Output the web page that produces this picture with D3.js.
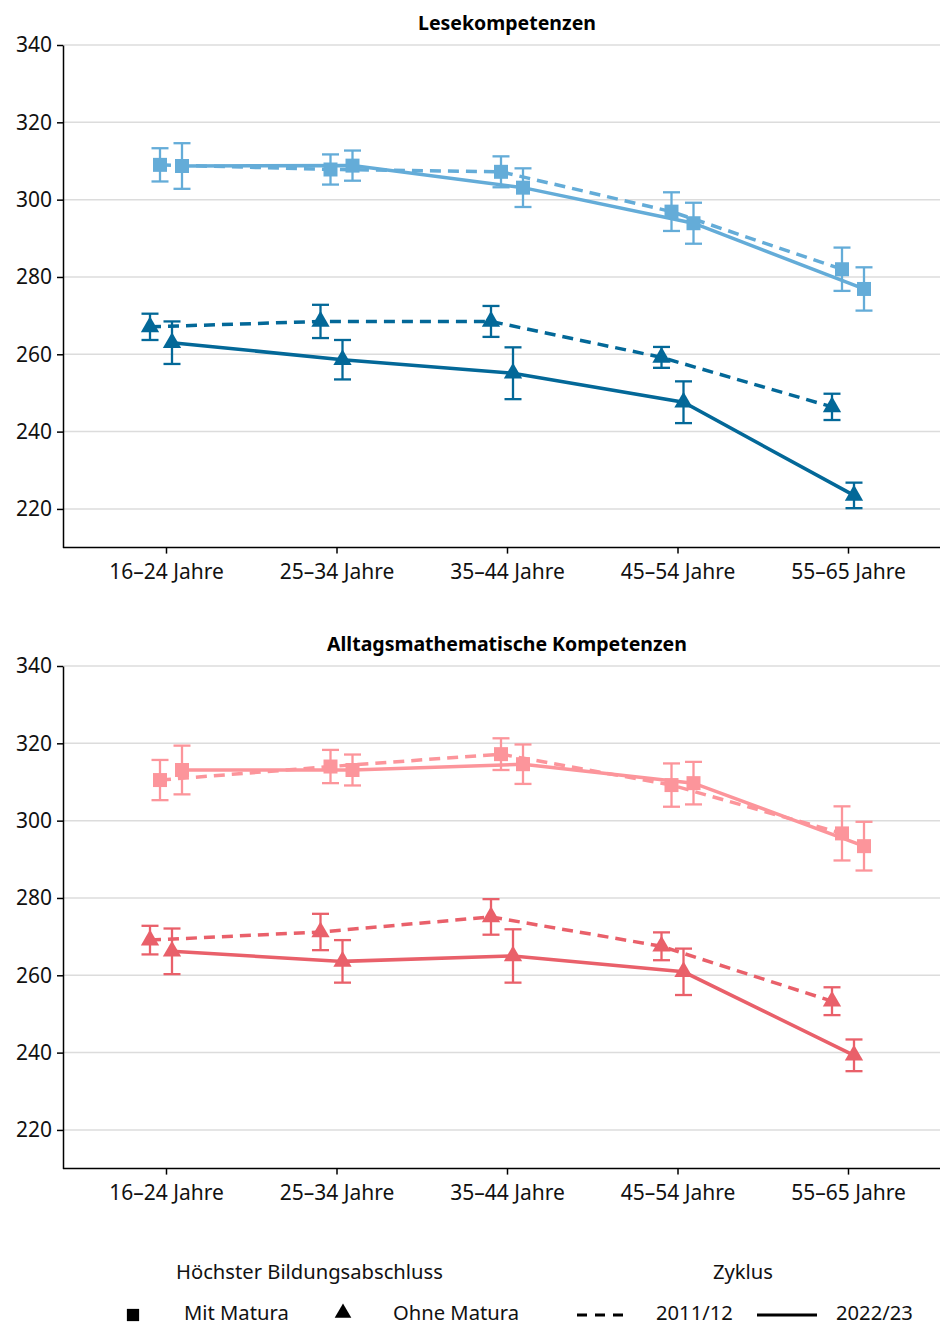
<!DOCTYPE html>
<html>
<head>
<meta charset="utf-8">
<script src="https://d3js.org/d3.v7.min.js"></script>
<style>
  body { margin: 0; background: #fff; }
  text { font-family: "Noto Sans", sans-serif; }
</style>
</head>
<body>
<div id="chart"></div>
<script>
// categories and ticks
var ageGroups = ["16–24 Jahre", "25–34 Jahre", "35–44 Jahre", "45–54 Jahre", "55–65 Jahre"];
var yTicks = [220, 240, 260, 280, 300, 320, 340];

// Lesekompetenzen
var leseMit2011 = [309.0, 307.8, 307.2, 296.9, 282.0];
var leseMit2011Err = [4.3, 3.9, 4.0, 5.0, 5.6];
var leseMit2022 = [308.7, 308.8, 303.1, 293.9, 276.9];
var leseMit2022Err = [5.9, 3.9, 5.0, 5.3, 5.6];
var leseOhne2011 = [267.1, 268.5, 268.5, 259.2, 246.4];
var leseOhne2011Err = [3.4, 4.3, 4.0, 2.7, 3.4];
var leseOhne2022 = [263.0, 258.6, 255.1, 247.6, 223.5];
var leseOhne2022Err = [5.5, 5.1, 6.7, 5.4, 3.3];

// Alltagsmathematische Kompetenzen
var mathMit2011 = [310.5, 314.0, 317.2, 309.2, 296.7];
var mathMit2011Err = [5.2, 4.3, 4.1, 5.6, 7.0];
var mathMit2022 = [313.1, 313.1, 314.6, 309.7, 293.4];
var mathMit2022Err = [6.3, 4.0, 5.1, 5.5, 6.3];
var mathOhne2011 = [269.1, 271.2, 275.1, 267.5, 253.3];
var mathOhne2011Err = [3.7, 4.7, 4.6, 3.6, 3.6];
var mathOhne2022 = [266.2, 263.6, 265.0, 260.9, 239.3];
var mathOhne2022Err = [5.9, 5.5, 6.9, 6.0, 4.1];

var W = 940, H = 1326;
var svg = d3.select("#chart").append("svg")
    .attr("width", W).attr("height", H);

var x = d3.scalePoint().domain(ageGroups).range([166, 848]);

function drawPanel(top, title, light, dark, series) {
    var y = d3.scaleLinear().domain([210, 340]).range([top + 502.6, top]);
    var g = svg.append("g");

    // grid
    g.selectAll("line.grid").data(yTicks).enter().append("line")
        .attr("x1", 63).attr("x2", W)
        .attr("y1", d => y(d)).attr("y2", d => y(d))
        .attr("stroke", "#dcdcdc").attr("stroke-width", 1.5);

    // axes
    var ya = g.append("g").attr("transform", "translate(63,0)")
        .call(d3.axisLeft(y).tickValues(yTicks).tickSize(6).tickPadding(5).tickSizeOuter(0));
    ya.select(".domain").attr("stroke", "#000").attr("stroke-width", 1.5);
    ya.selectAll(".tick line").attr("stroke", "#000").attr("stroke-width", 1.5);
    ya.selectAll(".tick text").attr("font-size", 21).attr("fill", "#111")
        .style("font-family", "Noto Sans");

    var xa = g.append("g").attr("transform", "translate(0," + y(210) + ")")
        .call(d3.axisBottom(x).tickSize(6).tickPadding(10).tickSizeOuter(0));
    xa.select(".domain").attr("d", "M63,0H" + W).attr("stroke", "#000").attr("stroke-width", 1.5);
    xa.selectAll(".tick line").attr("stroke", "#000").attr("stroke-width", 1.5);
    xa.selectAll(".tick text").attr("font-size", 21).attr("fill", "#111")
        .style("font-family", "Noto Sans");

    g.append("text").attr("x", 507).attr("y", top - 15)
        .attr("text-anchor", "middle").attr("font-size", 19.5).attr("font-weight", "bold")
        .text(title);

    var line = d3.line().x(d => d.x).y(d => y(d.v));

    series.forEach(function (s) {
        s.pts = s.values.map((v, i) => ({ x: x(ageGroups[i]) + s.dx, v: v, e: s.errs[i] }));
        s.color = s.shape === "square" ? light : dark;
    });

    series.forEach(function (s) {
        g.append("path").datum(s.pts)
            .attr("d", line).attr("fill", "none")
            .attr("stroke", s.color).attr("stroke-width", 3.5)
            .attr("stroke-dasharray", s.dashed ? "11,7" : null);
    });

    series.forEach(function (s) {
        var eg = g.append("g").attr("stroke", s.color).attr("stroke-width", 2.3);
        eg.selectAll("line.v").data(s.pts).enter().append("line")
            .attr("x1", d => d.x).attr("x2", d => d.x)
            .attr("y1", d => y(d.v + d.e)).attr("y2", d => y(d.v - d.e));
        eg.selectAll("line.t").data(s.pts).enter().append("line")
            .attr("x1", d => d.x - 8.5).attr("x2", d => d.x + 8.5)
            .attr("y1", d => y(d.v + d.e)).attr("y2", d => y(d.v + d.e));
        eg.selectAll("line.b").data(s.pts).enter().append("line")
            .attr("x1", d => d.x - 8.5).attr("x2", d => d.x + 8.5)
            .attr("y1", d => y(d.v - d.e)).attr("y2", d => y(d.v - d.e));
    });

    series.forEach(function (s) {
        var sym = s.shape === "square"
            ? d3.symbol().type(d3.symbolSquare).size(196)
            : d3.symbol().type(d3.symbolTriangle).size(145);
        g.selectAll(null).data(s.pts).enter().append("path")
            .attr("d", sym)
            .attr("transform", d => "translate(" + d.x + "," + y(d.v) + ")")
            .attr("fill", s.color);
    });
}

drawPanel(45, "Lesekompetenzen", "#64acd8", "#036898", [
    { values: leseOhne2011, errs: leseOhne2011Err, shape: "triangle", dashed: true, dx: -16 },
    { values: leseMit2011, errs: leseMit2011Err, shape: "square", dashed: true, dx: -6 },
    { values: leseOhne2022, errs: leseOhne2022Err, shape: "triangle", dashed: false, dx: 6 },
    { values: leseMit2022, errs: leseMit2022Err, shape: "square", dashed: false, dx: 16 }
]);

drawPanel(666, "Alltagsmathematische Kompetenzen", "#fc959b", "#e9606a", [
    { values: mathOhne2011, errs: mathOhne2011Err, shape: "triangle", dashed: true, dx: -16 },
    { values: mathMit2011, errs: mathMit2011Err, shape: "square", dashed: true, dx: -6 },
    { values: mathOhne2022, errs: mathOhne2022Err, shape: "triangle", dashed: false, dx: 6 },
    { values: mathMit2022, errs: mathMit2022Err, shape: "square", dashed: false, dx: 16 }
]);

// legend
var lg = svg.append("g").attr("font-size", 20.2).attr("fill", "#111");
lg.append("text").attr("x", 176).attr("y", 1279).text("Höchster Bildungsabschluss");
lg.append("text").attr("x", 743).attr("y", 1279).attr("text-anchor", "middle").text("Zyklus");
lg.append("path").attr("d", d3.symbol().type(d3.symbolSquare).size(150))
    .attr("transform", "translate(133,1315)").attr("fill", "#000");
lg.append("text").attr("x", 184).attr("y", 1320).text("Mit Matura");
lg.append("path").attr("d", d3.symbol().type(d3.symbolTriangle).size(120))
    .attr("transform", "translate(343,1313)").attr("fill", "#000");
lg.append("text").attr("x", 393).attr("y", 1320).text("Ohne Matura");
lg.append("line").attr("x1", 577).attr("x2", 631).attr("y1", 1315).attr("y2", 1315)
    .attr("stroke", "#000").attr("stroke-width", 3).attr("stroke-dasharray", "10,8");
lg.append("text").attr("x", 656).attr("y", 1320).text("2011/12");
lg.append("line").attr("x1", 757).attr("x2", 817).attr("y1", 1315).attr("y2", 1315)
    .attr("stroke", "#000").attr("stroke-width", 3);
lg.append("text").attr("x", 836).attr("y", 1320).text("2022/23");
</script>
</body>
</html>
